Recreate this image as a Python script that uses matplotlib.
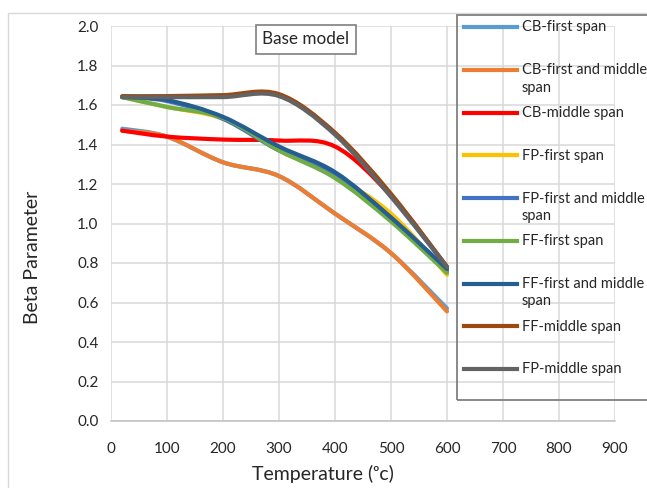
import numpy as np
import matplotlib.pyplot as plt
from matplotlib.path import Path
from matplotlib.patches import PathPatch, Rectangle
from matplotlib.lines import Line2D
from matplotlib.ticker import FormatStrFormatter

plt.rcParams['font.family'] = ['Lato', 'DejaVu Sans']

# temperatures (deg C) at which beta was evaluated
temps = [20, 100, 200, 300, 400, 500, 600]

cb_first = [1.48, 1.44, 1.31, 1.24, 1.05, 0.85, 0.57]
cb_first_middle = [1.47, 1.44, 1.31, 1.24, 1.05, 0.85, 0.555]
cb_middle = [1.47, 1.44, 1.425, 1.42, 1.39, 1.14, 0.78]
fp_first = [1.64, 1.59, 1.53, 1.37, 1.24, 1.05, 0.74]
fp_first_middle = [1.64, 1.62, 1.53, 1.37, 1.25, 1.03, 0.76]
ff_first = [1.64, 1.59, 1.535, 1.37, 1.23, 1.01, 0.75]
ff_first_middle = [1.64, 1.625, 1.54, 1.39, 1.26, 1.03, 0.77]
ff_middle = [1.645, 1.645, 1.65, 1.655, 1.46, 1.15, 0.78]
fp_middle = [1.64, 1.64, 1.64, 1.645, 1.45, 1.135, 0.78]

labels = ["CB-first span", "CB-first and middle\nspan", "CB-middle span",
          "FP-first span", "FP-first and middle\nspan", "FF-first span",
          "FF-first and middle\nspan", "FF-middle span", "FP-middle span"]
values = [cb_first, cb_first_middle, cb_middle, fp_first, fp_first_middle,
          ff_first, ff_first_middle, ff_middle, fp_middle]
colors = ["#5B9BD5", "#ED7D31", "#FF0000", "#FFC000", "#4472C4",
          "#70AD47", "#255E91", "#9E480E", "#636363"]


def smooth_path(x, y):
    """Smoothed line through the points as cubic Bezier segments."""
    pts = np.column_stack([x, y]).astype(float)
    n = len(pts)
    verts = [pts[0]]
    codes = [Path.MOVETO]
    for i in range(n - 1):
        p0 = pts[max(i - 1, 0)]
        p1 = pts[i]
        p2 = pts[i + 1]
        p3 = pts[min(i + 2, n - 1)]
        verts += [p1 + (p2 - p0) / 6, p2 - (p3 - p1) / 6, p2]
        codes += [Path.CURVE4] * 3
    return Path(verts, codes)


W, H = 647, 488
fig = plt.figure(figsize=(W / 100, H / 100), dpi=100)
ax = fig.add_axes([111 / W, 1 - 421 / H, 504 / W, 395 / H])

for vals, col in zip(values, colors):
    patch = PathPatch(smooth_path(temps, vals), facecolor="none",
                      edgecolor=col, lw=3.0, capstyle="round", zorder=3)
    ax.add_patch(patch)

ax.set_xlim(0, 900)
ax.set_ylim(0, 2.0)
ax.set_xticks(range(0, 1000, 100))
ax.set_yticks(np.arange(0, 2.01, 0.2))
ax.yaxis.set_major_formatter(FormatStrFormatter('%.1f'))
ax.grid(True, color="#D9D9D9", lw=1.1)
ax.set_axisbelow(True)
for side in ["top", "right", "left"]:
    ax.spines[side].set_visible(False)
ax.spines["bottom"].set_color("#BFBFBF")
ax.spines["bottom"].set_linewidth(1.1)
ax.tick_params(length=0, labelsize=11, colors="#262626")
ax.tick_params(axis="x", pad=15)
ax.tick_params(axis="y", pad=9)

ax.set_xlabel("Temperature (ᵒc)", fontsize=14, color="#262626")
ax.xaxis.set_label_coords(0.42, -0.112)
ax.set_ylabel("Beta Parameter", fontsize=14, color="#262626")
ax.yaxis.set_label_coords(-0.139, 0.415)

ax.text(0.387, 0.966, "Base model", transform=ax.transAxes, ha="center",
        va="center", fontsize=12.3, color="#262626",
        bbox=dict(boxstyle="square,pad=0.4", fc="white", ec="#7F7F7F", lw=1.2))

# chart border
fig.add_artist(Rectangle((8 / W, -0.1), 1.2, 1.1 - 13 / H, transform=fig.transFigure,
                         fill=False, ec="#D9D9D9", lw=1.0))

# legend box, running off the right edge
fig.add_artist(Rectangle((456.5 / W, 1 - 399.5 / H), 0.5, (399.5 - 14.5) / H,
                         transform=fig.transFigure, fill=False, ec="#808080", lw=1.3))
for i, (lab, col) in enumerate(zip(labels, colors)):
    yp = 1 - (27 + i * 42.75) / H
    fig.add_artist(Line2D([463.5 / W, 516.5 / W], [yp, yp], transform=fig.transFigure,
                          color=col, lw=3.0))
    fig.text(521.5 / W, yp + 6.5 / H, lab, ha="left", va="top", fontsize=10.5,
             color="#262626", linespacing=1.3)

fig.savefig("out.png", dpi=100)
